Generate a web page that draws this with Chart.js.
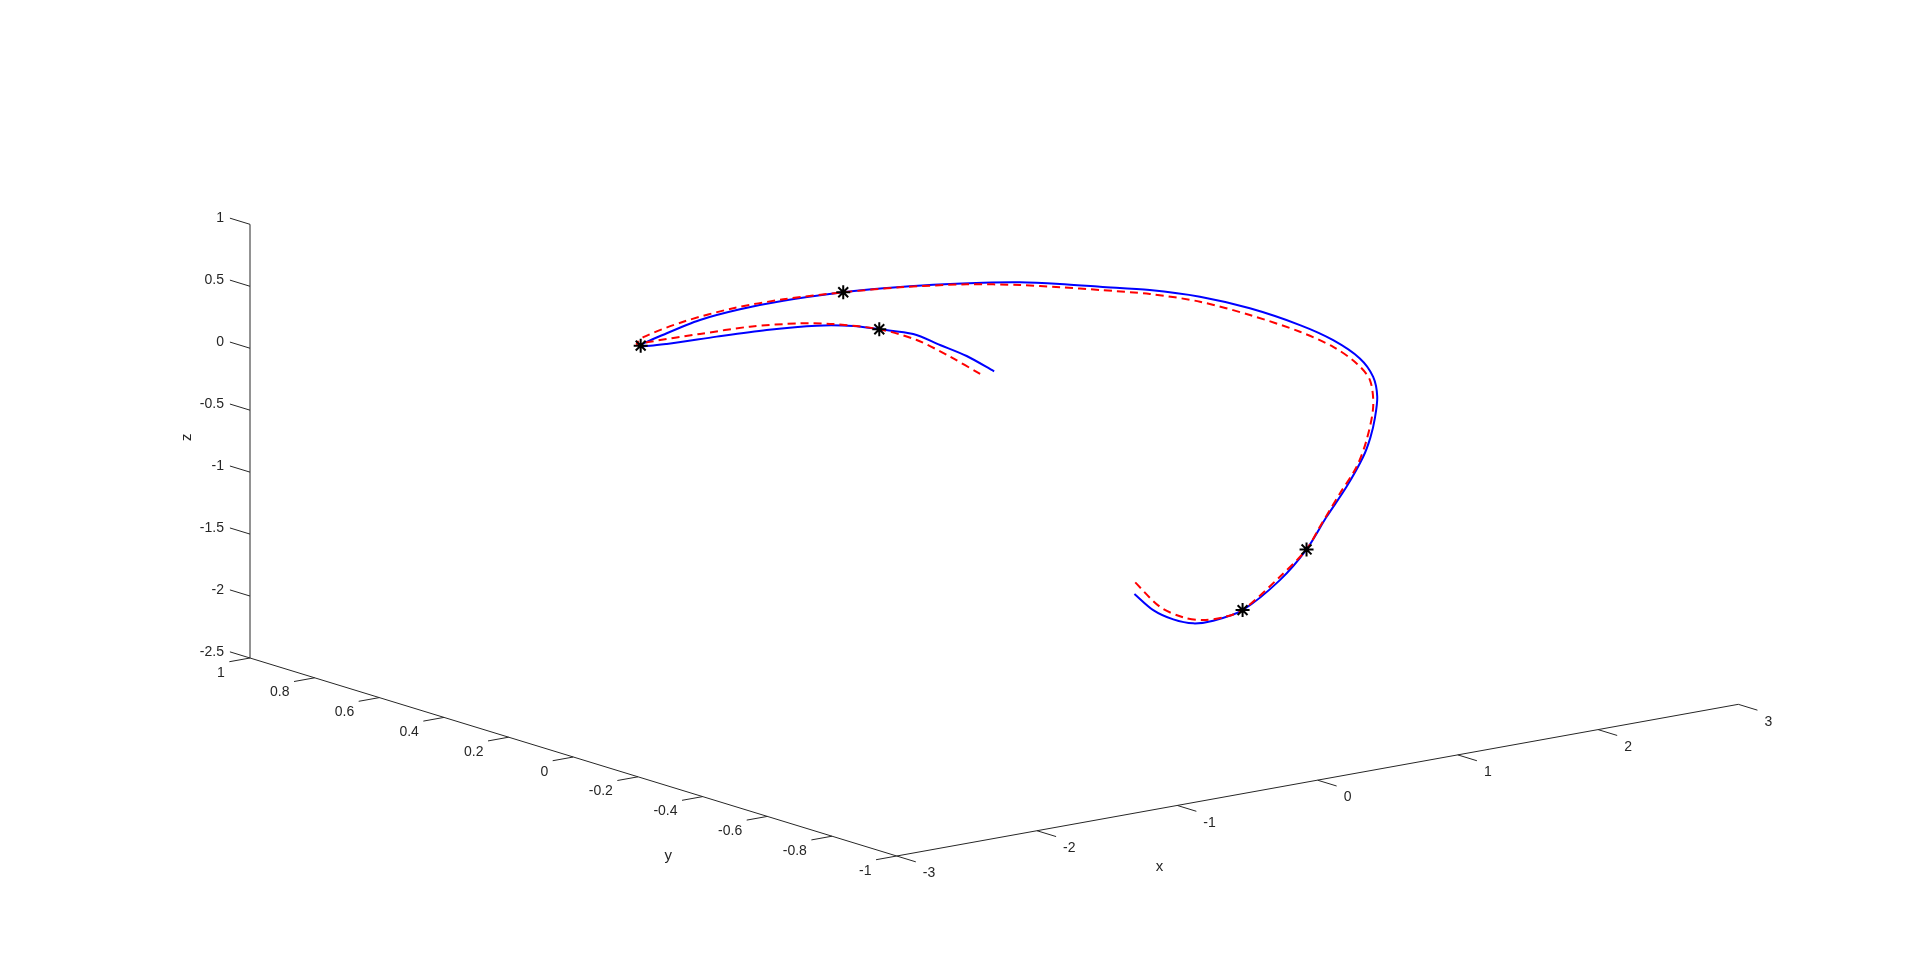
<!DOCTYPE html>
<html>
<head>
<meta charset="utf-8">
<title>3D path</title>
<script src="https://cdn.jsdelivr.net/npm/chart.js@4.4.0/dist/chart.umd.min.js"></script>
<style>
  html, body { margin: 0; padding: 0; background: #fff; }
  #wrap { width: 1920px; height: 963px; }
</style>
</head>
<body>
<div id="wrap"><canvas id="chart" width="1920" height="963"></canvas></div>
<script>
// --- DATA (3D, path lies in the plane y = 0) ---

// actual path (blue)
const blueX = [0.00, -0.196, -0.386, -0.577, -0.819, -1.004, -1.265, -1.622, -1.978, -2.334, -2.520, -2.334, -2.097, -1.812,
               -1.503, -1.076, -0.790, -0.434, -0.078, 0.184, 0.469, 0.754, 1.110, 1.467, 1.823, 2.180, 2.417, 2.607,
               2.702, 2.731, 2.714, 2.682, 2.631, 2.512, 2.370, 2.227, 2.037, 1.771, 1.562, 1.419, 1.277, 1.134, 1.00];
const blueY = [0, 0, 0, 0, 0, 0, 0, 0, 0, 0, 0, 0, 0, 0,
               0, 0, 0, 0, 0, 0, 0, 0, 0, 0, 0, 0, 0, 0,
               0, 0, 0, 0, 0, 0, 0, 0, 0, 0, 0, 0, 0, 0, 0];
const blueZ = [0.00, 0.164, 0.292, 0.419, 0.507, 0.571, 0.627, 0.665, 0.684, 0.697, 0.722, 0.784, 0.843, 0.871,
               0.877, 0.858, 0.832, 0.788, 0.731, 0.681, 0.609, 0.529, 0.430, 0.303, 0.137, -0.071, -0.241, -0.427,
               -0.595, -0.762, -0.933, -1.082, -1.226, -1.444, -1.657, -1.891, -2.100, -2.288, -2.331, -2.323, -2.262,
               -2.158, -2.00];

// reference path (red dashed)
const redX = [-0.10, -0.315, -0.552, -0.819, -1.147, -1.384, -1.741, -2.097, -2.453, -2.548, -2.501, -2.216, -1.860, -1.503,
              -1.076, -0.671, -0.196, 0.184, 0.469, 0.754, 1.110, 1.467, 1.823, 2.180, 2.417, 2.584, 2.679, 2.702,
              2.655, 2.584, 2.465, 2.322, 2.227, 2.037, 1.771, 1.633, 1.490, 1.348, 1.182, 1.00];
const redY = [0, 0, 0, 0, 0, 0, 0, 0, 0, 0, 0, 0, 0, 0,
              0, 0, 0, 0, 0, 0, 0, 0, 0, 0, 0, 0, 0, 0,
              0, 0, 0, 0, 0, 0, 0, 0, 0, 0, 0, 0];
const redZ = [0.00, 0.183, 0.366, 0.507, 0.616, 0.670, 0.716, 0.730, 0.740, 0.741, 0.786, 0.853, 0.889, 0.888,
              0.858, 0.815, 0.743, 0.659, 0.583, 0.503, 0.398, 0.263, 0.083, -0.125, -0.295, -0.463, -0.617, -0.837,
              -1.096, -1.297, -1.488, -1.728, -1.891, -2.073, -2.288, -2.318, -2.311, -2.260, -2.141, -1.90];

// waypoints (black stars)
const starX = [-0.819, -2.520, -1.076, 2.227, 1.771];
const starY = [0, 0, 0, 0, 0];
const starZ = [0.507, 0.722, 0.858, -1.891, -2.288];

// axes
const xLim = [-3, 3];
const yLim = [-1, 1];
const zLim = [-2.5, 1];
const xTicks = [-3, -2, -1, 0, 1, 2, 3];
const yTicks = [-1, -0.8, -0.6, -0.4, -0.2, 0, 0.2, 0.4, 0.6, 0.8, 1];
const zTicks = [-2.5, -2, -1.5, -1, -0.5, 0, 0.5, 1];
const xTickLabels = ['-3', '-2', '-1', '0', '1', '2', '3'];
const yTickLabels = ['-1', '-0.8', '-0.6', '-0.4', '-0.2', '0', '0.2', '0.4', '0.6', '0.8', '1'];
const zTickLabels = ['-2.5', '-2', '-1.5', '-1', '-0.5', '0', '0.5', '1'];

// --- VIEW (orthographic projection into the flat view plane) ---
const view = {
    origin: [250, 658],          // corner (xMin, yMax, zMin)
    xu: [140.27, -25.28],        // per unit of x
    yu: [-323.35, -99],          // per unit of y
    zu: [0, -123.91]             // per unit of z
};
const axisColor = '#262626';
const tickFont = '14px "Liberation Sans", Arial, sans-serif';
const titleFont = '15px "Liberation Sans", Arial, sans-serif';

function project(x, y, z) {
    const dx = x - xLim[0], dy = y - yLim[1], dz = z - zLim[0];
    return {
        x: view.origin[0] + dx * view.xu[0] + dy * view.yu[0] + dz * view.zu[0],
        y: view.origin[1] + dx * view.xu[1] + dy * view.yu[1] + dz * view.zu[1]
    };
}

function toView(xs, ys, zs) {
    return xs.map((x, i) => project(x, ys[i], zs[i]));
}

// --- 3D AXES (drawn through the chart scales) ---
const axes3d = {
    id: 'axes3d',
    beforeDatasetsDraw(chart) {
        const { ctx } = chart;
        const sx = chart.scales.x, sy = chart.scales.y;
        const pix = p => ({ x: sx.getPixelForValue(p.x), y: sy.getPixelForValue(p.y) });
        const P = (x, y, z) => pix(project(x, y, z));
        const unit = (a, b) => {
            const dx = b.x - a.x, dy = b.y - a.y, l = Math.hypot(dx, dy);
            return { x: dx / l, y: dy / l };
        };
        const line = (a, b) => { ctx.beginPath(); ctx.moveTo(a.x, a.y); ctx.lineTo(b.x, b.y); ctx.stroke(); };

        ctx.save();
        ctx.strokeStyle = axisColor;
        ctx.fillStyle = axisColor;
        ctx.lineWidth = 1;

        const c0 = P(xLim[0], yLim[1], zLim[0]);
        line(c0, P(xLim[0], yLim[1], zLim[1]));                                  // z axis
        line(c0, P(xLim[0], yLim[0], zLim[0]));                                  // y axis
        line(P(xLim[0], yLim[0], zLim[0]), P(xLim[1], yLim[0], zLim[0]));        // x axis

        const dirPlusY = unit(P(0, 0, 0), P(0, 1, 0));
        const dirMinusX = unit(P(0, 0, 0), P(-1, 0, 0));
        const dirMinusY = unit(P(0, 0, 0), P(0, -1, 0));
        const tickLen = 21;

        ctx.font = tickFont;
        ctx.textBaseline = 'middle';

        // z ticks
        ctx.textAlign = 'right';
        zTicks.forEach((t, i) => {
            const a = P(xLim[0], yLim[1], t);
            const b = { x: a.x + dirPlusY.x * tickLen, y: a.y + dirPlusY.y * tickLen };
            line(a, b);
            ctx.fillText(zTickLabels[i], b.x - 6, b.y);
        });

        // y ticks
        yTicks.forEach((t, i) => {
            const a = P(xLim[0], t, zLim[0]);
            const b = { x: a.x + dirMinusX.x * tickLen, y: a.y + dirMinusX.y * tickLen };
            line(a, b);
            ctx.fillText(yTickLabels[i], b.x - 4.5, b.y + 11);
        });

        // x ticks
        ctx.textAlign = 'left';
        xTicks.forEach((t, i) => {
            const a = P(t, yLim[0], zLim[0]);
            const b = { x: a.x + dirMinusY.x * 20, y: a.y + dirMinusY.y * 20 };
            line(a, b);
            ctx.fillText(xTickLabels[i], b.x + 7, b.y + 11.5);
        });

        // axis titles
        ctx.font = titleFont;
        ctx.textAlign = 'center';
        const xt = P(0, yLim[0], zLim[0]);
        ctx.fillText('x', xt.x - 158, xt.y + 87);
        const yt = P(xLim[0], 0, zLim[0]);
        ctx.fillText('y', yt.x + 95, yt.y + 99);
        const zt = P(xLim[0], yLim[1], (zLim[0] + zLim[1]) / 2);
        ctx.save();
        ctx.translate(zt.x - 63, zt.y - 4);
        ctx.rotate(-Math.PI / 2);
        ctx.fillText('z', 0, 0);
        ctx.restore();

        ctx.restore();
    }
};

const ctx = document.getElementById('chart').getContext('2d');
const chart = new Chart(ctx, {
    type: 'scatter',
    data: {
        datasets: [
            {
                label: 'waypoints',
                data: toView(starX, starY, starZ),
                showLine: false,
                pointStyle: 'star',
                pointRadius: 7,
                pointHoverRadius: 7,
                borderColor: '#000000',
                backgroundColor: '#000000',
                borderWidth: 2
            },
            {
                label: 'reference',
                data: toView(redX, redY, redZ),
                showLine: true,
                borderColor: '#ff0000',
                borderWidth: 2,
                borderDash: [8, 5],
                pointRadius: 0,
                tension: 0.3,
                fill: false
            },
            {
                label: 'actual',
                data: toView(blueX, blueY, blueZ),
                showLine: true,
                borderColor: '#0000ff',
                borderWidth: 2,
                pointRadius: 0,
                tension: 0.3,
                fill: false
            }
        ]
    },
    options: {
        responsive: false,
        animation: false,
        devicePixelRatio: 1,
        events: [],
        layout: { padding: 0, autoPadding: false },
        plugins: { legend: { display: false }, tooltip: { enabled: false } },
        scales: {
            x: { type: 'linear', min: 0, max: 1920, display: false },
            y: { type: 'linear', min: 0, max: 963, reverse: true, display: false }
        }
    },
    plugins: [axes3d]
});
</script>
</body>
</html>
